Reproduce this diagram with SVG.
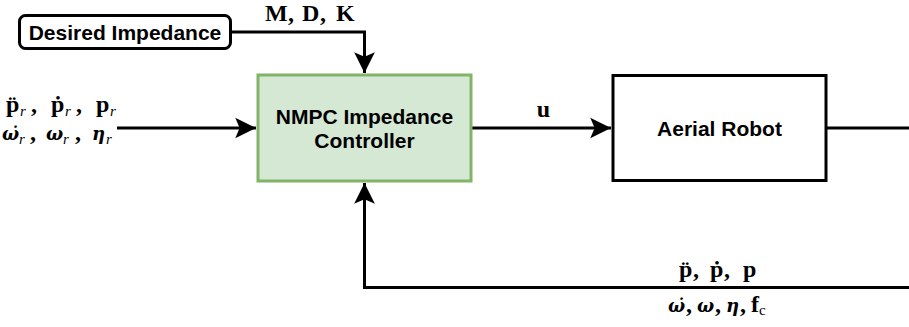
<svg xmlns="http://www.w3.org/2000/svg" width="909" height="327" viewBox="0 0 909 327">
<style>
.node{font-family:"Liberation Sans",Arial,sans-serif;font-weight:bold;font-size:21px;fill:#000;text-anchor:middle}
.math{font-family:"Liberation Serif","Times New Roman",serif;font-weight:bold;font-size:24px;fill:#000}
.sub{font-style:italic;font-weight:normal;font-size:15px}
.subr{font-weight:normal;font-size:15px}
.gr{font-family:"DejaVu Serif",serif;font-style:italic;font-size:18px}
.edge{fill:none;stroke:#000;stroke-width:3}
</style>
<defs>
<marker id="arr" markerUnits="userSpaceOnUse" markerWidth="24" markerHeight="24" viewBox="-21 -11 22 22" refX="0" refY="0" orient="auto">
<path d="M0,0 L-19,-9.5 L-15,0 L-19,9.5 Z" fill="#000"/>
</marker>
</defs>
<g id="connectors">
<path class="edge" d="M232,32 H364.5 V73" marker-end="url(#arr)"/>
<path class="edge" d="M117,128 H256" marker-end="url(#arr)"/>
<path class="edge" d="M472,128 H611" marker-end="url(#arr)"/>
<path class="edge" d="M826,128 H909"/>
<path class="edge" d="M909,287.5 H364.5 V183" marker-end="url(#arr)"/>
</g>
<g id="desired-impedance">
<rect x="19.5" y="15.5" width="211" height="33" rx="6" fill="#fff" stroke="#000" stroke-width="3"/>
<text class="node" x="125" y="39.5">Desired Impedance</text>
</g>
<g id="nmpc-controller">
<rect x="258" y="75" width="213" height="106" fill="#d5e8d4" stroke="#82b366" stroke-width="3"/>
<text class="node" x="364.5" y="123.5">NMPC Impedance</text>
<text class="node" x="364.5" y="148">Controller</text>
</g>
<g id="aerial-robot">
<rect x="613" y="75.5" width="213" height="105" fill="#fff" stroke="#000" stroke-width="3"/>
<text class="node" x="719.5" y="135.5">Aerial Robot</text>
</g>
<g id="labels">
<text class="math" y="21"><tspan x="265">M</tspan><tspan x="288">,</tspan><tspan x="302">D</tspan><tspan x="320">,</tspan><tspan x="336">K</tspan></text>
<text class="math" y="112"><tspan x="6">p̈</tspan><tspan class="sub" x="20" y="116">r</tspan><tspan x="31" y="112">,</tspan><tspan x="51">ṗ</tspan><tspan class="sub" x="65" y="116">r</tspan><tspan x="76" y="112">,</tspan><tspan x="96">p</tspan><tspan class="sub" x="110" y="116">r</tspan></text>
<text class="math" y="140"><tspan class="gr" x="2">ω̇</tspan><tspan class="sub" x="19" y="144">r</tspan><tspan x="30" y="140">,</tspan><tspan class="gr" x="46">ω</tspan><tspan class="sub" x="63" y="144">r</tspan><tspan x="75" y="140">,</tspan><tspan class="gr" x="92">η</tspan><tspan class="sub" x="106" y="144">r</tspan></text>
<text class="math" x="543.5" y="117" text-anchor="middle">u</text>
<text class="math" y="277"><tspan x="679">p̈</tspan><tspan x="693">,</tspan><tspan x="710">ṗ</tspan><tspan x="724">,</tspan><tspan x="743">p</tspan></text>
<text class="math" y="312"><tspan class="gr" x="668">ω̇</tspan><tspan x="686">,</tspan><tspan class="gr" x="697">ω</tspan><tspan x="715">,</tspan><tspan class="gr" x="726">η</tspan><tspan x="740">,</tspan><tspan x="751">f</tspan><tspan class="subr" x="759" y="315">c</tspan></text>
</g>
</svg>
